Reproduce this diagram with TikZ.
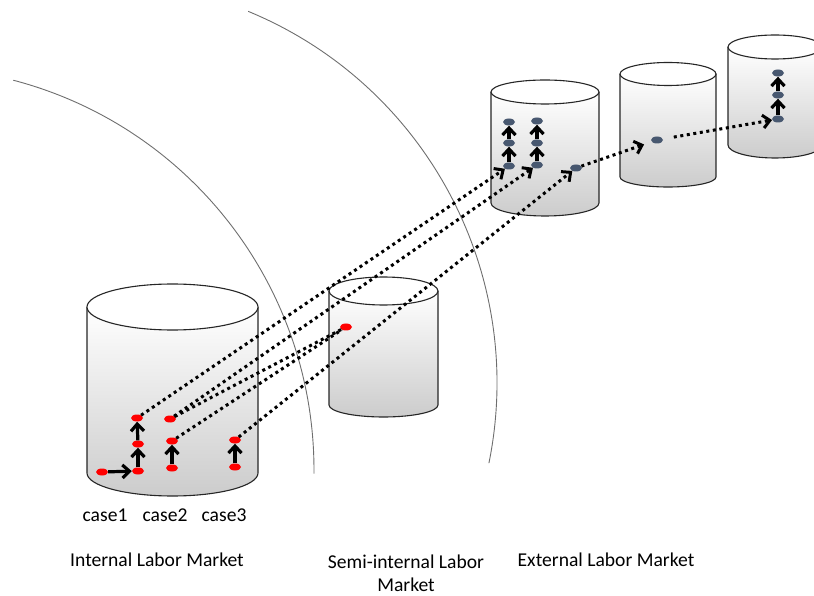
\documentclass[tikz,border=0pt]{standalone}
\usepackage{fontspec}
\setmainfont{Carlito}
\usetikzlibrary{arrows.meta,shapes.geometric}
\definecolor{dotblue}{RGB}{72,88,112}
\definecolor{arcgray}{RGB}{110,110,110}
\tikzset{
  cylline/.style={draw=black!85, line width=1.1pt},
  rdot/.style={ellipse, fill=red, minimum width=12pt, minimum height=7pt, inner sep=0pt},
  bdot/.style={ellipse, fill=dotblue, minimum width=12pt, minimum height=7pt, inner sep=0pt},
  solidarrow/.style={line width=3.2pt, -{Straight Barb[length=7pt,width=13pt]}},
  dotline/.style={line width=3pt, dash pattern=on 3pt off 3.6pt},
  dotarrow/.style={dotline, -{Straight Barb[length=7pt,width=13pt]}},
  ring/.style={draw=arcgray, line width=0.9pt},
  lbl/.style={font=\fontsize{19.6}{23}\selectfont, inner sep=0pt, align=center}
}
\newcommand\mycyl[6]{%
  \pgfmathsetmacro\cx{(#1+#2)/2}\pgfmathsetmacro\rx{(#2-#1)/2}%
  \shade[top color=white, middle color=black!4, bottom color=black!20] (#1,#3) -- (#1,#4) arc[start angle=180,end angle=360,x radius=\rx,y radius=#6] -- (#2,#3) -- cycle;
  \draw[cylline] (#1,#3) -- (#1,#4) arc[start angle=180,end angle=360,x radius=\rx,y radius=#6] -- (#2,#3);
  \draw[cylline, fill=white] (\cx,#3) ellipse[x radius=\rx, y radius=#5];
}
\begin{document}
\begin{tikzpicture}[x=1pt,y=1pt]
\useasboundingbox (0,0) rectangle (814,595);
\clip (0,0) rectangle (814,595);
% rings
\coordinate (ca) at (-89,125);
\coordinate (cb) at (95,212);
\draw[ring] (ca) ++(75.3:403) arc[start angle=75.3, end angle=-0.5, radius=403];
\draw[ring] (cb) ++(67.6:402) arc[start angle=67.6, end angle=-11.5, radius=402];
% cylinders
\mycyl{87}{258}{288}{122}{23}{23}
\mycyl{329}{438}{304}{190}{14}{12}
\mycyl{491}{599}{503}{392}{12}{13}
\mycyl{620}{716}{521}{418}{11.5}{10}
\mycyl{728}{822}{548}{450}{12}{13}
% dots internal
\node[rdot] (a1) at (102,123) {};
\node[rdot] (a2) at (138,124) {};
\node[rdot] (a3) at (138,151) {};
\node[rdot] (a4) at (137,177) {};
\node[rdot] (b1) at (172,127) {};
\node[rdot] (b2) at (172,154) {};
\node[rdot] (b3) at (170,176) {};
\node[rdot] (c1) at (235,128) {};
\node[rdot] (c2) at (235,155) {};
\node[rdot] (s1) at (346,268) {};
% dots external
\node[bdot] (e1) at (509,429) {};
\node[bdot] (e2) at (509,452) {};
\node[bdot] (e3) at (509,473) {};
\node[bdot] (f1) at (537,430) {};
\node[bdot] (f2) at (537,452) {};
\node[bdot] (f3) at (537,474) {};
\node[bdot] (g1) at (576,427) {};
\node[bdot] (h1) at (657,455) {};
\node[bdot] (k1) at (778,476) {};
\node[bdot] (k2) at (778,500) {};
\node[bdot] (k3) at (778,522) {};
% solid arrows
\draw[solidarrow] (a1) -- (a2);
\draw[solidarrow] (a2) -- (a3);
\draw[solidarrow] (a3) -- (a4);
\draw[solidarrow] (b1) -- (b2);
\draw[solidarrow] (c1) -- (c2);
\draw[solidarrow] (e1) -- (e2);
\draw[solidarrow] (e2) -- (e3);
\draw[solidarrow] (f1) -- (f2);
\draw[solidarrow] (f2) -- (f3);
\draw[solidarrow] (k1) -- (k2);
\draw[solidarrow] (k2) -- (k3);
% dotted connectors
\draw[dotarrow] (a4) -- (e1);
\draw[dotarrow] (b3) -- (f1);
\draw[dotline] (b3) -- (s1);
\draw[dotline] (b2) -- (s1);
\draw[dotarrow] (c2) -- (g1);
\draw[dotarrow, shorten >=8pt] (g1) -- (h1);
\draw[dotarrow, shorten <=11pt] (h1) -- (k1);
% labels
\node[lbl] (t1) at (105,80) {case1};
\node[lbl] (t2) at (165,80) {case2};
\node[lbl] (t3) at (224,80) {case3};
\node[lbl] (m1) at (157,35) {Internal Labor Market};
\node[lbl] (m2) at (406,21.5) {Semi-internal Labor\\Market};
\node[lbl] (m3) at (606,35) {External Labor Market};
\end{tikzpicture}
\end{document}
